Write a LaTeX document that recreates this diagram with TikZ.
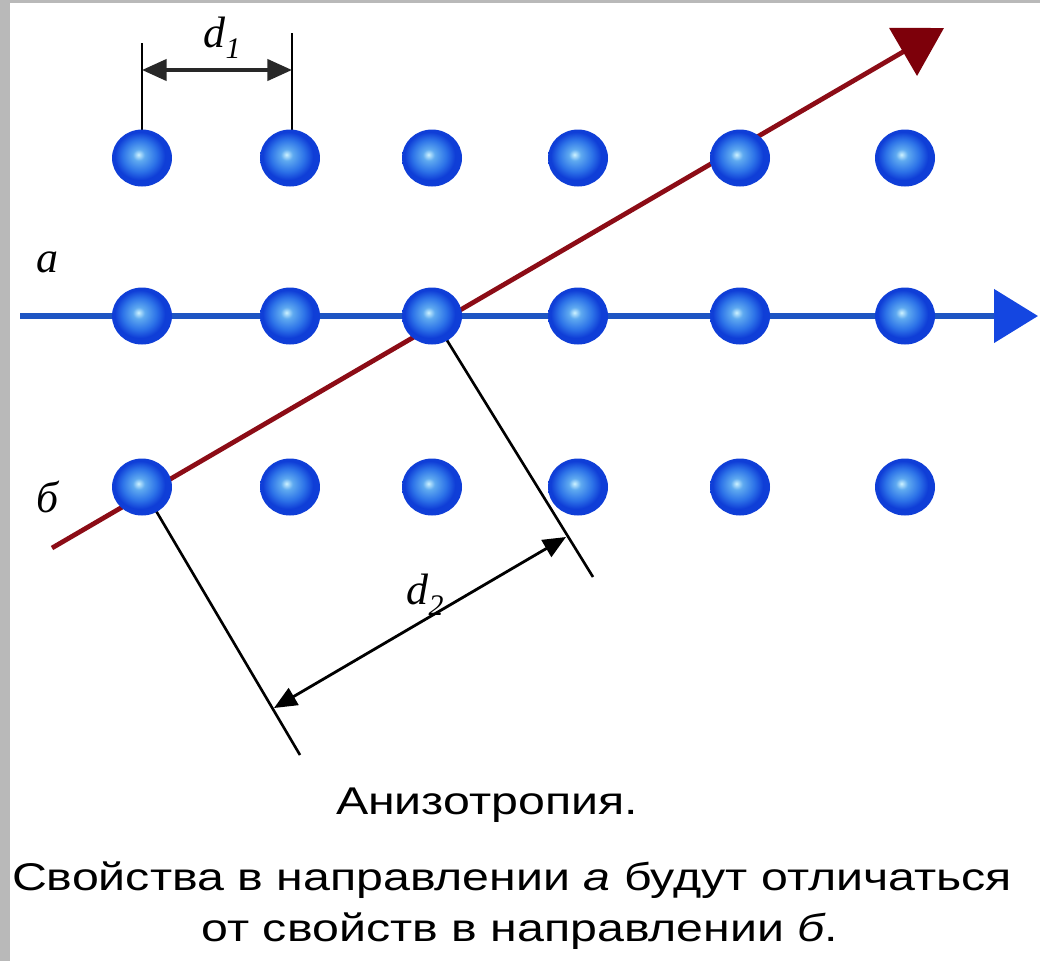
\documentclass[tikz,border=0pt]{standalone}
\usepackage{fontspec}
\newfontfamily\lserif{Liberation Serif}
\newfontfamily\lsans{Liberation Sans}
\usetikzlibrary{arrows.meta,shapes.geometric}
\definecolor{atomhi}{RGB}{205,242,255}
\definecolor{atomlight}{RGB}{95,170,240}
\definecolor{atommid}{RGB}{45,115,232}
\definecolor{atomdark}{RGB}{15,62,215}
\definecolor{redline}{RGB}{140,12,22}
\definecolor{redtip}{RGB}{125,0,10}
\definecolor{blueline}{RGB}{30,85,195}
\definecolor{bluetip}{RGB}{20,70,225}
\definecolor{dimgray}{RGB}{40,40,40}
\definecolor{framegray}{RGB}{185,185,185}
\pgfdeclareradialshading{atomshade}{\pgfpoint{-3bp}{3bp}}{color(0bp)=(atomhi); color(5bp)=(atomlight); color(14bp)=(atommid); color(21bp)=(atomdark); color(25bp)=(atomdark); color(50bp)=(atomdark)}
\pgfdeclarelayer{back}
\pgfdeclarelayer{lines}
\pgfsetlayers{back,lines,main}
\begin{document}
\begin{tikzpicture}[x=0.02cm,y=-0.02cm,
  atom/.style={ellipse, minimum width=1.2cm, minimum height=1.14cm, inner sep=0pt, shading=atomshade},
  dirA/.style={line width=3pt, color=blueline, -{Triangle[length=25pt,width=30pt,color=bluetip]}},
  dirB/.style={line width=2.7pt, color=redline, -{Triangle[length=27pt,width=31pt,color=redtip]}},
  guide/.style={line width=1.5pt, color=black},
  dimA/.style={line width=2.2pt, color=dimgray, {Triangle[length=14pt,width=12pt]}-{Triangle[length=14pt,width=12pt]}},
  dimB/.style={line width=1.6pt, color=black, {Triangle[length=13pt,width=11pt]}-{Triangle[length=13pt,width=11pt]}},
  lbl/.style={font=\lserif\itshape\fontsize{25}{25}\selectfont, inner sep=0pt},
  capt/.style={font=\lsans\fontsize{22}{22}\selectfont, inner sep=0pt, xscale=1.25}
]
\useasboundingbox (0,0) rectangle (1040,961);
\begin{pgfonlayer}{back}
\fill[white] (0,0) rectangle (1040,961);
\fill[framegray] (0,0) rectangle (10,961);
\fill[framegray] (0,0) rectangle (1040,3);
\end{pgfonlayer}

% atoms
\foreach \c/\x in {1/142,2/290,3/432,4/578,5/740,6/905}{
  \foreach \r/\y in {1/158,2/316,3/487}{
    \node[atom] (a\r\c) at (\x,\y) {};
  }
}

% free ends
\coordinate (bstart) at (20,316);
\coordinate (bend) at (1038,316);
\coordinate (rstart) at (52,548);
\coordinate (rend) at (944,28);
\coordinate (p1) at (593,577);
\coordinate (p2) at (300,755);
\coordinate (q1) at (566,537);
\coordinate (q2) at (274,708);
\coordinate (t1) at (142,43);
\coordinate (t2) at (292,33);
\coordinate (u1) at (142,70);
\coordinate (u2) at (292,70);

\begin{pgfonlayer}{lines}
\draw[dirA] (bstart) -- (bend);
\draw[dirB] (rstart) -- (rend);
\draw[guide] (a23.center) -- (p1);
\draw[guide] (a31.center) -- (p2);
\draw[guide] (t1) -- (t1 |- a11.center);
\draw[guide] (t2) -- (t2 |- a12.center);
\draw[dimA] (u1) -- (u2);
\draw[dimB] (q2) -- (q1);
\end{pgfonlayer}

% labels
\node[lbl] (ld1) at (222,38) {d\raisebox{-0.25em}{\fontsize{17}{17}\selectfont 1}};
\node[lbl] (ld2) at (425,595) {d\raisebox{-0.25em}{\fontsize{17}{17}\selectfont 2}};
\node[lbl] (la) at (47,262) {а};
\node[lbl] (lb) at (48,497) {б};

% caption
\node[capt] (c1) at (487,805) {Анизотропия.};
\node[capt] (c2) at (512,880) {Свойства в направлении {\itshape а} будут отличаться};
\node[capt] (c3) at (520,931) {от свойств в направлении {\itshape б}.};
\end{tikzpicture}
\end{document}
